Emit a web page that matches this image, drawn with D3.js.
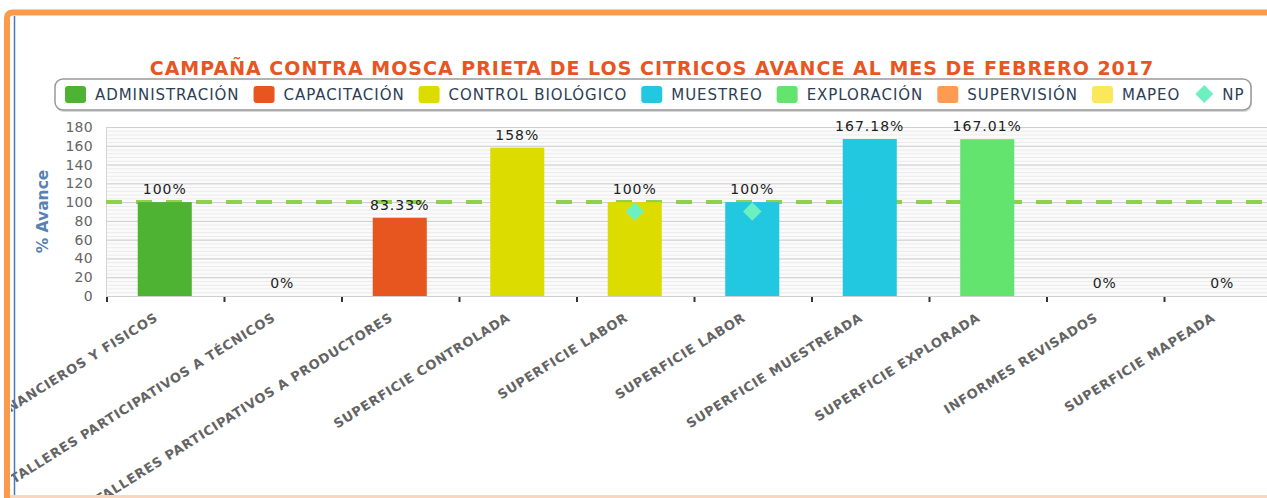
<!DOCTYPE html>
<html>
<head>
<meta charset="utf-8">
<script src="https://cdn.jsdelivr.net/npm/d3@7"></script>
<style>
  html, body { margin: 0; padding: 0; background: #fff; }
  svg { display: block; font-family: "DejaVu Sans", Verdana, sans-serif; }
</style>
</head>
<body>
<svg id="chart" width="1267" height="498"></svg>
<script>
/** chart data */
const chartTitle = "CAMPAÑA CONTRA MOSCA PRIETA DE LOS CITRICOS AVANCE AL MES DE FEBRERO 2017";
const categories = [
  "INFORMES FINANCIEROS Y FISICOS",
  "TALLERES PARTICIPATIVOS A TÉCNICOS",
  "TALLERES PARTICIPATIVOS A PRODUCTORES",
  "SUPERFICIE CONTROLADA",
  "SUPERFICIE LABOR",
  "SUPERFICIE LABOR ",
  "SUPERFICIE MUESTREADA",
  "SUPERFICIE EXPLORADA",
  "INFORMES REVISADOS",
  "SUPERFICIE MAPEADA"
];
const barSeries = ["ADMINISTRACIÓN", "CAPACITACIÓN", "CAPACITACIÓN", "CONTROL BIOLÓGICO", "CONTROL BIOLÓGICO",
                   "MUESTREO", "MUESTREO", "EXPLORACIÓN", "SUPERVISIÓN", "MAPEO"];
const values = [100, 0, 83.33, 158, 100, 100, 167.18, 167.01, 0, 0];
const valueLabels = ["100%", "0%", "83.33%", "158%", "100%", "100%", "167.18%", "167.01%", "0%", "0%"];
const npValues = [null, null, null, null, 90, 90, null, null, null, null];
const legendNames = ["ADMINISTRACIÓN", "CAPACITACIÓN", "CONTROL BIOLÓGICO", "MUESTREO", "EXPLORACIÓN", "SUPERVISIÓN", "MAPEO"];
const npName = "NP";
const yTicks = [0, 20, 40, 60, 80, 100, 120, 140, 160, 180];
const targetValue = 100;
const yTitle = "% Avance";

var svg = d3.select("#chart");

var color = d3.scaleOrdinal()
    .domain(legendNames)
    .range(["#4eb233", "#e8561f", "#dcdc00", "#22c8e0", "#63e46f", "#ff9a52", "#fbe85a"]);
var npColor = "#6cf0c0";

// plot area (runs past the right edge of the page, as in the screenshot)
var plot = { left: 106, right: 1281, top: 127, bottom: 296 };

var x = d3.scaleBand()
    .domain(categories)
    .range([plot.left, plot.right])
    .paddingInner(0.54)
    .paddingOuter(0.27);

var y = d3.scaleLinear()
    .domain([0, 180])
    .range([plot.bottom, plot.top]);

// clip everything inside the orange frame
svg.append("clipPath").attr("id", "frameClip")
  .append("rect").attr("x", 11).attr("y", 16).attr("width", 1267).attr("height", 498);

var g = svg.append("g").attr("clip-path", "url(#frameClip)");

// title
g.append("text")
    .attr("x", 652)
    .attr("y", 75)
    .attr("text-anchor", "middle")
    .attr("fill", "#e8561f")
    .attr("font-weight", "bold")
    .attr("font-size", "19px")
    .attr("letter-spacing", "1px")
    .text(chartTitle);

// legend box
var legend = g.append("g");
legend.append("rect")
    .attr("x", 56).attr("y", 81).attr("width", 1196).attr("height", 31).attr("rx", 8)
    .attr("fill", "#d8d8d8");
legend.append("rect")
    .attr("x", 55).attr("y", 79).attr("width", 1196).attr("height", 31).attr("rx", 8)
    .attr("fill", "#fff").attr("stroke", "#999").attr("stroke-width", 1.5);

var lx = 65;
legendNames.forEach(function(name) {
    legend.append("rect")
        .attr("x", lx).attr("y", 86).attr("width", 21).attr("height", 17).attr("rx", 3)
        .attr("fill", color(name));
    var t = legend.append("text")
        .attr("x", lx + 30).attr("y", 100)
        .attr("font-size", "15px")
        .attr("letter-spacing", "0.95px")
        .attr("fill", "#2d3e55")
        .text(name);
    lx += 30 + t.node().getComputedTextLength() + 14;
});
legend.append("path")
    .attr("transform", "translate(" + (lx + 10) + ",94) rotate(45)")
    .attr("d", d3.symbol(d3.symbolSquare, 160)())
    .attr("fill", npColor);
legend.append("text")
    .attr("x", lx + 28).attr("y", 100)
    .attr("font-size", "15px")
    .attr("letter-spacing", "0.95px")
    .attr("fill", "#2d3e55")
    .text(npName);

// plot background + grid
g.append("rect")
    .attr("x", plot.left).attr("y", plot.top)
    .attr("width", plot.right - plot.left).attr("height", plot.bottom - plot.top)
    .attr("fill", "#fbfbfb");

g.append("g").selectAll("line")
    .data(d3.range(0, 181, 4))
    .join("line")
    .attr("x1", plot.left).attr("x2", plot.right)
    .attr("y1", function(d) { return y(d) + 0.5; })
    .attr("y2", function(d) { return y(d) + 0.5; })
    .attr("stroke", "#ebebeb");

g.append("g")
    .attr("transform", "translate(" + plot.left + ",0)")
    .call(d3.axisLeft(y).tickValues(yTicks).tickSize(-(plot.right - plot.left)).tickFormat(""))
    .call(function(a) { a.select(".domain").remove(); })
    .selectAll("line").attr("stroke", "#cfcfcf");

g.append("line")
    .attr("x1", plot.left + 0.5).attr("x2", plot.left + 0.5)
    .attr("y1", plot.top).attr("y2", plot.bottom)
    .attr("stroke", "#d6d6d6");

// y labels
g.append("g")
    .attr("transform", "translate(93,0)")
    .call(d3.axisLeft(y).tickValues(yTicks).tickSize(0).tickPadding(0))
    .call(function(a) { a.select(".domain").remove(); })
    .selectAll("text")
    .attr("font-family", "DejaVu Sans, sans-serif")
    .attr("font-size", "14px")
    .attr("letter-spacing", "0.3px")
    .attr("fill", "#666");

g.append("text")
    .attr("transform", "translate(48," + y(90) + ") rotate(-90)")
    .attr("text-anchor", "middle")
    .attr("font-size", "15.5px")
    .attr("font-weight", "bold")
    .attr("fill", "#5a82b0")
    .text(yTitle);

// target line at 100 (behind bars)
g.append("line")
    .attr("x1", plot.left).attr("x2", plot.right)
    .attr("y1", y(targetValue)).attr("y2", y(targetValue))
    .attr("stroke", "#8fd14f")
    .attr("stroke-width", 4)
    .attr("stroke-dasharray", "16,14");

// bars
g.append("g").selectAll("rect")
    .data(categories)
    .join("rect")
    .attr("x", function(d) { return x(d); })
    .attr("width", x.bandwidth())
    .attr("y", function(d, i) { return y(values[i]); })
    .attr("height", function(d, i) { return y(0) - y(values[i]); })
    .attr("fill", function(d, i) { return color(barSeries[i]); });

// value labels
g.append("g").selectAll("text")
    .data(categories)
    .join("text")
    .attr("x", function(d) { return x(d) + x.bandwidth() / 2; })
    .attr("y", function(d, i) { return y(values[i]) - 8; })
    .attr("text-anchor", "middle")
    .attr("font-size", "14px")
    .attr("letter-spacing", "1px")
    .attr("fill", "#222")
    .text(function(d, i) { return valueLabels[i]; });

// NP diamonds
g.append("g").selectAll("path")
    .data(categories.filter(function(d, i) { return npValues[i] != null; }))
    .join("path")
    .attr("transform", function(d) {
        var i = categories.indexOf(d);
        return "translate(" + (x(d) + x.bandwidth() / 2) + "," + y(npValues[i]) + ") rotate(45)";
    })
    .attr("d", d3.symbol(d3.symbolSquare, 170)())
    .attr("fill", npColor);

// x axis line + tick marks at category boundaries
g.append("line")
    .attr("x1", plot.left).attr("x2", plot.right)
    .attr("y1", plot.bottom + 0.5).attr("y2", plot.bottom + 0.5)
    .attr("stroke", "#cfcfcf");

var half = (x.step() - x.bandwidth()) / 2;
g.append("g").selectAll("line")
    .data(categories)
    .join("line")
    .attr("x1", function(d) { return x(d) - half + 1; })
    .attr("x2", function(d) { return x(d) - half + 1; })
    .attr("y1", plot.bottom + 1).attr("y2", plot.bottom + 6)
    .attr("stroke", "#333")
    .attr("stroke-width", 2);

// category labels, rotated
g.append("g").selectAll("text")
    .data(categories)
    .join("text")
    .attr("transform", function(d) {
        return "translate(" + (x(d) + x.bandwidth() / 2 - 6) + "," + (plot.bottom + 24) + ") rotate(-32)";
    })
    .attr("text-anchor", "end")
    .attr("font-size", "13px")
    .attr("font-weight", "bold")
    .attr("letter-spacing", "0.7px")
    .attr("fill", "#646464")
    .text(function(d) { return d.trim(); });

// frame
svg.append("path")
    .attr("d", "M7,498 L7,18 Q7,12.5 13,12.5 L1267,12.5")
    .attr("fill", "none")
    .attr("stroke", "#fb9a4a")
    .attr("stroke-width", 6);
svg.append("line")
    .attr("x1", 14.5).attr("x2", 14.5).attr("y1", 16).attr("y2", 498)
    .attr("stroke", "#4a78b8").attr("stroke-width", 1.5);
svg.append("line")
    .attr("x1", 10).attr("x2", 1267).attr("y1", 496.5).attr("y2", 496.5)
    .attr("stroke", "#f8d6bf").attr("stroke-width", 3);
</script>
</body>
</html>
